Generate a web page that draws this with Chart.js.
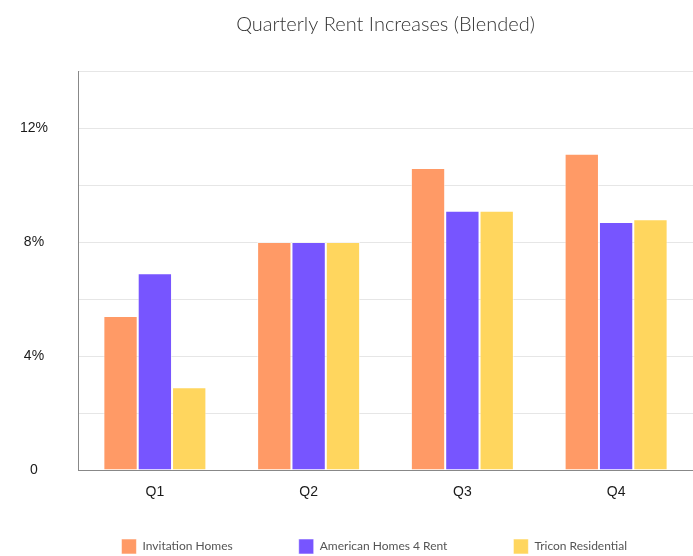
<!DOCTYPE html>
<html>
<head>
<meta charset="utf-8">
<title>Quarterly Rent Increases (Blended)</title>
<script src="https://cdn.jsdelivr.net/npm/chart.js@4.4.1/dist/chart.umd.min.js"></script>
<style>
  html, body { margin: 0; padding: 0; background: #fff; }
  #wrap { width: 693px; height: 556px; }
</style>
</head>
<body>
<div id="wrap"><canvas id="rentChart"></canvas></div>
<script>
const quarters = ['Q1', 'Q2', 'Q3', 'Q4'];
const invitationHomes = [5.4, 8.0, 10.6, 11.1];
const americanHomes = [6.9, 8.0, 9.1, 8.7];
const triconResidential = [2.9, 8.0, 9.1, 8.8];
const yTicks = [0, 4, 8, 12]; // labelled ticks, grid every 2%

const ctx = document.getElementById('rentChart')
  const rentChart = new Chart(ctx, {
    type: 'bar',
    data: {
      labels: quarters,
      datasets: [{
        label: 'Invitation Homes',
        data: invitationHomes,
        backgroundColor: '#ff9a66',
        borderColor: 'rgba(255, 255, 255, 0.55)',
        borderWidth: 1
      }, {
        label: 'American Homes 4 Rent',
        data: americanHomes,
        backgroundColor: '#7755ff',
        borderColor: 'rgba(255, 255, 255, 0.55)',
        borderWidth: 1
      }, {
        label: 'Tricon Residential',
        data: triconResidential,
        backgroundColor: '#ffd65e',
        borderColor: 'rgba(255, 255, 255, 0.55)',
        borderWidth: 1
      }]
    },
    options: {
      responsive: true,
      maintainAspectRatio: false,
      animation: false,
      layout: {
        padding: { left: 0, right: 0, top: 0, bottom: -8 }
      },
      datasets: {
        bar: { categoryPercentage: 0.67, barPercentage: 1.0 }
      },
      scales: {
        x: {
          grid: { display: false, drawTicks: false },
          border: { color: '#888888' },
          ticks: {
            // mirrored so the labels are not clipped to the thin axis box
            mirror: true,
            padding: -31,
            color: '#1a1a1a',
            font: { family: '"Liberation Sans", Arial, sans-serif', size: 14 }
          },
          afterFit: (scale) => { scale.height = 3; }
        },
        y: {
          min: 0,
          max: 14,
          grid: { color: '#e6e6e6', drawTicks: false },
          border: { color: '#888888' },
          ticks: {
            stepSize: 2,
            padding: 30,
            crossAlign: 'center',
            color: '#1a1a1a',
            font: { family: '"Liberation Sans", Arial, sans-serif', size: 14 },
            callback: (v) => yTicks.includes(v) ? (v === 0 ? '0' : v + '%') : ''
          },
          afterFit: (scale) => { scale.width = 78; }
        }
      },
      plugins: {
        legend: {
          position: 'bottom',
          align: 'end',
          labels: {
            boxWidth: 15,
            boxHeight: 15,
            padding: 66,
            color: '#555555',
            font: { family: 'Lato, sans-serif', size: 12 }
          }
        },
        title: {
          display: true,
          fullSize: false,
          text: 'Quarterly Rent Increases (Blended)',
          color: '#333333',
          font: { family: 'Lato, sans-serif', size: 20, weight: 300 },
          padding: { top: 13, bottom: 34 }
        },
        tooltip: { enabled: false }
      }
    }
  });
</script>
</body>
</html>
